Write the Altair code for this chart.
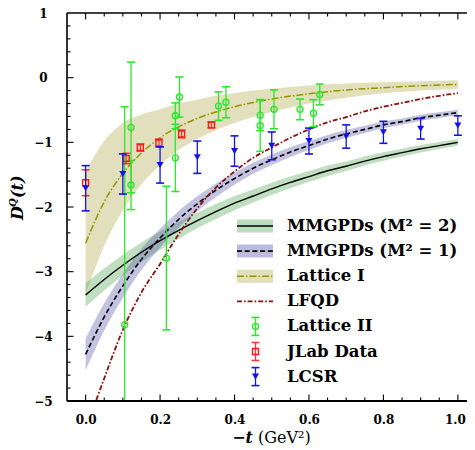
import altair as alt
import pandas as pd

# ---------------- data ----------------
t_grid = [0.00, 0.05, 0.10, 0.15, 0.20, 0.25, 0.30, 0.35, 0.40, 0.45, 0.50,
          0.55, 0.60, 0.65, 0.70, 0.75, 0.80, 0.85, 0.90, 0.95, 1.00]
mm2_c = [-3.36, -3.12, -2.90, -2.70, -2.52, -2.36, -2.21, -2.07, -1.94, -1.83, -1.72,
         -1.62, -1.53, -1.44, -1.37, -1.29, -1.22, -1.16, -1.10, -1.05, -1.00]
mm2_w = [0.18, 0.17, 0.16, 0.15, 0.14, 0.13, 0.12, 0.115, 0.11, 0.10, 0.095,
         0.09, 0.085, 0.08, 0.075, 0.07, 0.065, 0.06, 0.058, 0.055, 0.05]
mm1_c = [-4.28, -3.70, -3.22, -2.81, -2.48, -2.19, -1.95, -1.74, -1.56, -1.40, -1.27,
         -1.15, -1.05, -0.95, -0.87, -0.80, -0.73, -0.68, -0.62, -0.58, -0.54]
mm1_w = [0.245, 0.21, 0.185, 0.165, 0.145, 0.13, 0.115, 0.105, 0.095, 0.085, 0.08,
         0.075, 0.07, 0.065, 0.06, 0.055, 0.052, 0.05, 0.048, 0.045, 0.043]
lfqd_c = [-5.45, -4.65, -3.90, -3.32, -2.88, -2.42, -2.02, -1.70, -1.45, -1.24, -1.08,
          -0.93, -0.80, -0.69, -0.61, -0.52, -0.45, -0.39, -0.33, -0.28, -0.24]

lat1_x = [0.00, 0.05, 0.10, 0.15, 0.20, 0.25, 0.30, 0.35, 0.40, 0.45, 0.50, 0.60, 0.70, 0.80, 0.90, 1.00]
lat1_c = [-2.56, -1.92, -1.48, -1.165, -0.93, -0.76, -0.63, -0.53, -0.45, -0.385, -0.33, -0.25, -0.19, -0.155, -0.125, -0.105]
lat1_hi = [-1.45, -0.98, -0.70, -0.57, -0.49, -0.40, -0.34, -0.28, -0.24, -0.20, -0.17, -0.12, -0.09, -0.07, -0.055, -0.04]
lat1_lo = [-3.35, -2.60, -2.05, -1.65, -1.35, -1.12, -0.95, -0.81, -0.70, -0.61, -0.53, -0.40, -0.31, -0.24, -0.20, -0.17]

lat2_x = [0.105, 0.122, 0.122, 0.217, 0.241, 0.241, 0.252, 0.357, 0.377, 0.469, 0.469, 0.506, 0.576, 0.612, 0.629]
lat2_y = [-3.82, -0.77, -1.66, -2.79, -0.59, -1.24, -0.30, -0.44, -0.38, -0.58, -0.74, -0.49, -0.49, -0.55, -0.26]
lat2_e = [3.37, 1.01, 0.38, 1.11, 0.20, 0.52, 0.31, 0.22, 0.24, 0.24, 0.40, 0.30, 0.16, 0.21, 0.16]

jlab_x = [0.0, 0.109, 0.147, 0.197, 0.258, 0.338]
jlab_y = [-1.625, -1.25, -1.08, -1.01, -0.87, -0.73]
jlab_e = [0.20, 0.08, 0.055, 0.06, 0.06, 0.045]

lcsr_x = [0.0, 0.1, 0.2, 0.3, 0.4, 0.5, 0.6, 0.7, 0.8, 0.9, 1.0]
lcsr_y = [-1.71, -1.49, -1.35, -1.23, -1.135, -1.055, -0.98, -0.91, -0.845, -0.79, -0.74]
lcsr_e = [0.35, 0.31, 0.28, 0.25, 0.235, 0.215, 0.20, 0.18, 0.17, 0.16, 0.15]

legend_labels = ["MMGPDs (M² = 2)", "MMGPDs (M² = 1)", "Lattice I", "LFQD",
                 "Lattice II", "JLab Data", "LCSR"]

x_major = [0.0, 0.2, 0.4, 0.6, 0.8, 1.0]
x_minor = [0.05, 0.1, 0.15, 0.25, 0.3, 0.35, 0.45, 0.5, 0.55, 0.65, 0.7, 0.75, 0.85, 0.9, 0.95]
y_major = [-4, -3, -2, -1, 0]
y_minor = [round(-5 + 0.2 * i, 1) for i in range(1, 30) if i % 5 != 0]

# ---------------- layout / style ----------------
W, H = 408, 388
SERIF = "DejaVu Serif"
GREEN_BAND, PURPLE_BAND, KHAKI_BAND = "#5aa85a", "#5454a9", "#bdb76b"
OLIVE, DARKRED = "#9a9400", "#8b1010"
C_L2, C_JL, C_LC = "#2ee62e", "#ff1a1a", "#1414e6"

xs = alt.Scale(domain=[-0.05, 1.046], nice=False, zero=False)
ys = alt.Scale(domain=[-5, 1], nice=False, zero=False)
x_axis = alt.Axis(values=x_major, format=".1f", ticks=False, tickSize=0, domain=False, grid=False,
                  labelFont=SERIF, labelFontWeight="bold", labelFontSize=12, labelColor="black",
                  labelPadding=13, title=None,
                  labelOffset={"condition": {"test": "datum.value >= 0.99", "value": -3}, "value": 0})
y_axis = alt.Axis(values=[-5, -4, -3, -2, -1, 0, 1], format="d", ticks=False, tickSize=0, domain=False,
                  grid=False, labelFont=SERIF, labelFontWeight="bold", labelFontSize=12,
                  labelColor="black", labelAlign="center", labelPadding=24, title=None)


def X(f):
    return alt.X(f"{f}:Q", scale=xs, axis=x_axis, title=None)


def Y(f):
    return alt.Y(f"{f}:Q", scale=ys, axis=y_axis, title=None)


curves = pd.DataFrame({"x": t_grid,
                       "mm2": mm2_c, "mm2_hi": [c + w for c, w in zip(mm2_c, mm2_w)],
                       "mm2_lo": [c - w for c, w in zip(mm2_c, mm2_w)],
                       "mm1": mm1_c, "mm1_hi": [c + w for c, w in zip(mm1_c, mm1_w)],
                       "mm1_lo": [c - w for c, w in zip(mm1_c, mm1_w)],
                       "lfqd": lfqd_c})
lat1 = pd.DataFrame({"x": lat1_x, "c": lat1_c, "hi": lat1_hi, "lo": lat1_lo})


def pts_df(xv, yv, ev):
    return pd.DataFrame({"x": xv, "y": yv,
                         "lo": [a - b for a, b in zip(yv, ev)],
                         "hi": [a + b for a, b in zip(yv, ev)]})


layers = []
cb = alt.Chart(curves)
# bands
layers.append(alt.Chart(lat1).mark_area(color=KHAKI_BAND, opacity=0.45, clip=True,
                                         interpolate="monotone").encode(x=X("x"), y=Y("hi"), y2="lo"))
layers.append(cb.mark_area(color=GREEN_BAND, opacity=0.38, clip=True, interpolate="monotone")
              .encode(x=X("x"), y=Y("mm2_hi"), y2="mm2_lo"))
layers.append(cb.mark_area(color=PURPLE_BAND, opacity=0.35, clip=True, interpolate="monotone")
              .encode(x=X("x"), y=Y("mm1_hi"), y2="mm1_lo"))
# lines
layers.append(cb.mark_line(color="black", strokeWidth=1.4, clip=True, interpolate="monotone")
              .encode(x=X("x"), y=Y("mm2")))
layers.append(cb.mark_line(color="black", strokeWidth=1.6, strokeDash=[5, 2.7], clip=True,
                           interpolate="monotone").encode(x=X("x"), y=Y("mm1")))
layers.append(alt.Chart(lat1).mark_line(color=OLIVE, strokeWidth=1.5, strokeDash=[7, 2, 1.5, 2],
                                        clip=True, interpolate="monotone").encode(x=X("x"), y=Y("c")))
layers.append(cb.mark_line(color=DARKRED, strokeWidth=1.8, strokeDash=[5, 2, 1.6, 2], clip=True,
                           interpolate="monotone").encode(x=X("x"), y=Y("lfqd")))


def errbars(df, color, shape, filled, size, op=1.0):
    b = alt.Chart(df)
    out = [
        b.mark_rule(color=color, strokeWidth=1.3, opacity=op, clip=True).encode(x=X("x"), y=Y("lo"), y2="hi"),
        b.mark_tick(orient="horizontal", color=color, size=8, thickness=1.6, opacity=op, clip=True)
        .encode(x=X("x"), y=Y("lo")),
        b.mark_tick(orient="horizontal", color=color, size=8, thickness=1.6, opacity=op, clip=True)
        .encode(x=X("x"), y=Y("hi")),
        b.mark_point(shape=shape, filled=filled, size=size, color=color, strokeWidth=1.4, opacity=1,
                     clip=True).encode(x=X("x"), y=Y("y")),
    ]
    return out


layers += errbars(pts_df(lat2_x, lat2_y, lat2_e), C_L2, "circle", False, 36)
layers += errbars(pts_df(jlab_x, jlab_y, jlab_e), C_JL, "square", False, 36, 0.85)
layers += errbars(pts_df(lcsr_x, lcsr_y, lcsr_e), C_LC, "triangle-down", True, 50)

# ticks (inward, all four sides)
for vals, ln in ((x_major, 6.5), (x_minor, 3.5)):
    d = alt.Chart(pd.DataFrame({"v": vals}))
    layers.append(d.mark_rule(color="black", strokeWidth=1.1).encode(x=X("v"), y=alt.value(H), y2=alt.value(H - ln)))
    layers.append(d.mark_rule(color="black", strokeWidth=1.1).encode(x=X("v"), y=alt.value(0), y2=alt.value(ln)))
for vals, ln in ((y_major, 6.5), (y_minor, 3.5)):
    d = alt.Chart(pd.DataFrame({"v": vals}))
    layers.append(d.mark_rule(color="black", strokeWidth=1.1).encode(y=Y("v"), x=alt.value(0), x2=alt.value(ln)))
    layers.append(d.mark_rule(color="black", strokeWidth=1.1).encode(y=Y("v"), x=alt.value(W), x2=alt.value(W - ln)))

one = alt.Chart(pd.DataFrame({"k": [0]}))
# frame (left, top, bottom; right edge lies beyond the window)
layers.append(one.mark_rule(color="black", strokeWidth=1.6).encode(x=alt.value(0), x2=alt.value(W + 4), y=alt.value(0)))
layers.append(one.mark_rule(color="black", strokeWidth=1.8).encode(x=alt.value(0), x2=alt.value(W + 4), y=alt.value(H)))
layers.append(one.mark_rule(color="black", strokeWidth=1.6).encode(x=alt.value(0), y=alt.value(0), y2=alt.value(H)))

# legend
LX0, LX1, LXC, LTX = 170, 206, 188.5, 220
ly = [213 + 25.1 * i for i in range(len(legend_labels))]
band_specs = [(GREEN_BAND, "black", 1.4, None), (PURPLE_BAND, "black", 1.6, [5, 2.7]),
              (KHAKI_BAND, OLIVE, 1.5, [7, 2, 1.5, 2])]
for i, (bc, lc, lw, dash) in enumerate(band_specs):
    yy = ly[i]
    layers.append(one.mark_rect(color=bc, opacity=0.4 if i < 2 else 0.45).encode(
        x=alt.value(LX0), x2=alt.value(LX1), y=alt.value(yy - 6.5), y2=alt.value(yy + 6.5)))
    kw = dict(color=lc, strokeWidth=lw)
    if dash:
        kw["strokeDash"] = dash
    layers.append(one.mark_rule(**kw).encode(x=alt.value(LX0), x2=alt.value(LX1), y=alt.value(yy)))
layers.append(one.mark_rule(color=DARKRED, strokeWidth=1.8, strokeDash=[5, 2, 1.6, 2]).encode(
    x=alt.value(LX0), x2=alt.value(LX1), y=alt.value(ly[3])))
for i, (c, shp, fl, sz, op) in zip([4, 5, 6], [(C_L2, "circle", False, 36, 1.0), (C_JL, "square", False, 36, 0.85),
                                            (C_LC, "triangle-down", True, 50, 1.0)]):
    yy = ly[i]
    layers.append(one.mark_rule(color=c, strokeWidth=1.3, opacity=op).encode(
        x=alt.value(LXC), y=alt.value(yy - 9), y2=alt.value(yy + 9)))
    for cy in (yy - 9, yy + 9):
        layers.append(one.mark_rule(color=c, strokeWidth=1.6, opacity=op).encode(
            x=alt.value(LXC - 4), x2=alt.value(LXC + 4), y=alt.value(cy)))
    layers.append(one.mark_point(shape=shp, filled=fl, size=sz, color=c, strokeWidth=1.4, opacity=1).encode(
        x=alt.value(LXC), y=alt.value(yy)))
for i, lab in enumerate(legend_labels):
    layers.append(one.mark_text(align="left", baseline="middle", font=SERIF, fontWeight="bold",
                                fontSize=16.5, color="black").encode(
        x=alt.value(LTX), y=alt.value(ly[i]), text=alt.value(lab)))

# axis titles built from text pieces
CX = 205
layers.append(one.mark_text(align="right", baseline="middle", font=SERIF, fontStyle="italic",
                            fontWeight="bold", fontSize=16, color="black").encode(
    x=alt.value(CX - 19), y=alt.value(H + 37), text=alt.value("−t")))
layers.append(one.mark_text(align="left", baseline="middle", font=SERIF, fontSize=16, color="black").encode(
    x=alt.value(CX - 14), y=alt.value(H + 37), text=alt.value("(GeV²)")))

TX = -49
layers.append(one.mark_text(align="left", baseline="middle", angle=270, font=SERIF, fontStyle="italic",
                            fontWeight="bold", fontSize=16, color="black").encode(
    x=alt.value(TX), y=alt.value(207), text=alt.value("D")))
layers.append(one.mark_text(align="left", baseline="middle", angle=270, font=SERIF, fontStyle="italic",
                            fontWeight="bold", fontSize=10, color="black").encode(
    x=alt.value(TX - 5), y=alt.value(194), text=alt.value("Q")))
layers.append(one.mark_text(align="left", baseline="middle", angle=270, font=SERIF, fontStyle="italic",
                            fontWeight="bold", fontSize=16, color="black").encode(
    x=alt.value(TX), y=alt.value(185), text=alt.value("(t)")))

chart = alt.layer(*layers).properties(
    width=W, height=H,
    autosize=alt.AutoSizeParams(type="none"),
    padding={"left": 59, "top": 5, "right": -8, "bottom": 45},
    background="white",
).configure_view(stroke=None)

chart.save("out.html", embed_options={"renderer": "svg", "actions": False})
